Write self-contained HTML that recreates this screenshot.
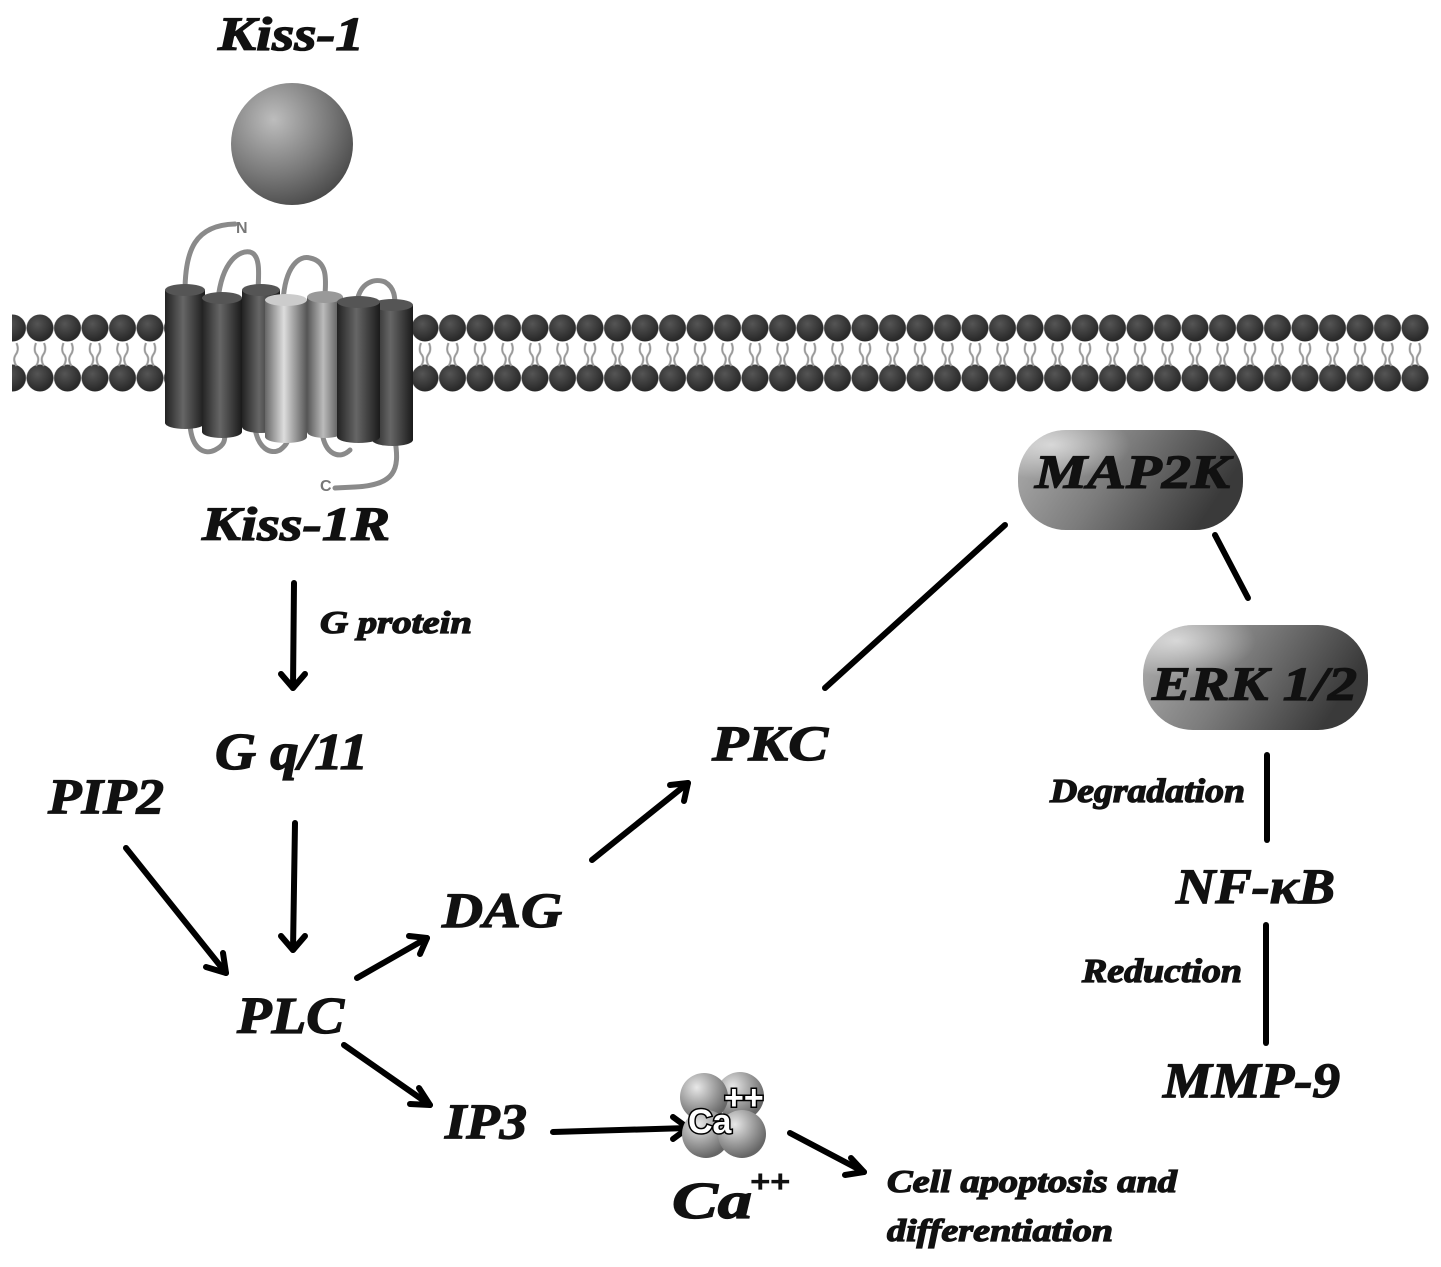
<!DOCTYPE html>
<html><head><meta charset="utf-8"><style>
html,body{margin:0;padding:0;background:#fff}
svg{display:block}
text{font-family:"Liberation Serif",serif;font-weight:bold;font-style:italic;fill:#111;stroke:#111;stroke-width:1.3}
</style></head><body>
<svg width="1441" height="1267" viewBox="0 0 1441 1267" xmlns="http://www.w3.org/2000/svg">
<defs>
<radialGradient id="sph" cx="0.35" cy="0.3" r="0.75">
<stop offset="0" stop-color="#bdbdbd"/><stop offset="0.6" stop-color="#7a7a7a"/><stop offset="1" stop-color="#4a4a4a"/></radialGradient>
<radialGradient id="ca" cx="0.35" cy="0.3" r="0.7">
<stop offset="0" stop-color="#e8e8e8"/><stop offset="0.6" stop-color="#999"/><stop offset="1" stop-color="#666"/></radialGradient>
<radialGradient id="ball" cx="0.4" cy="0.35" r="0.6">
<stop offset="0" stop-color="#555"/><stop offset="1" stop-color="#2a2a2a"/></radialGradient>
<linearGradient id="cd" x1="0" x2="1"><stop offset="0" stop-color="#222"/><stop offset="0.45" stop-color="#666"/><stop offset="1" stop-color="#1a1a1a"/></linearGradient>
<linearGradient id="cl" x1="0" x2="1"><stop offset="0" stop-color="#666"/><stop offset="0.45" stop-color="#ddd"/><stop offset="1" stop-color="#555"/></linearGradient>
<linearGradient id="cg" x1="0" x2="1"><stop offset="0" stop-color="#555"/><stop offset="0.45" stop-color="#bbb"/><stop offset="1" stop-color="#444"/></linearGradient>
<linearGradient id="pill" x1="0" x2="1" y1="0" y2="0.3"><stop offset="0" stop-color="#b0b0b0"/><stop offset="0.5" stop-color="#7c7c7c"/><stop offset="1" stop-color="#3a3a3a"/></linearGradient>
<radialGradient id="hl" cx="0.15" cy="0.15" r="0.35"><stop offset="0" stop-color="#fff" stop-opacity="0.6"/><stop offset="1" stop-color="#fff" stop-opacity="0"/></radialGradient>
<pattern id="lip" patternUnits="userSpaceOnUse" x="-1.25" y="300" width="27.5" height="110">
<circle cx="13.75" cy="28" r="13.5" fill="url(#ball)"/>
<circle cx="13.75" cy="78" r="13.5" fill="url(#ball)"/>
<path d="M9.75 43 q-3 8 1 12 q3 5 -1 11 M17.75 43 q3 7 -1 12 q-3 5 1 11" stroke="#999" stroke-width="2" fill="none"/>
</pattern>
</defs>

<!-- membrane -->
<rect x="12" y="300" width="1417" height="110" fill="url(#lip)"/>

<!-- Kiss-1 -->
<text x="218" y="50" font-size="48" textLength="146" lengthAdjust="spacingAndGlyphs">Kiss-1</text>
<circle cx="292" cy="144" r="61" fill="url(#sph)"/>

<!-- receptor loops -->
<g fill="none" stroke="#8a8a8a" stroke-width="5" stroke-linecap="round">
<path d="M185 292 C185 250,195 225,235 224"/>
<path d="M218 300 C222 260,240 250,250 252 C262 255,258 280,258 292"/>
<path d="M283 302 C285 265,300 255,310 258 C330 262,325 285,325 297"/>
<path d="M357 302 C360 282,375 278,385 282 C395 288,395 298,395 306"/>
<path d="M190 425 C192 450,205 455,215 450 C225 445,225 440,225 432"/>
<path d="M255 428 C258 448,270 455,280 450 C288 444,288 440,288 436"/>
<path d="M322 432 C325 455,340 460,350 450"/>
<path d="M395 440 C400 470,395 485,355 487 L335 488"/>
</g>
<text x="236" y="233" font-size="16" style="fill:#777;stroke:none;font-style:normal;font-family:'Liberation Sans',sans-serif">N</text>
<text x="320" y="491" font-size="16" style="fill:#777;stroke:none;font-style:normal;font-family:'Liberation Sans',sans-serif">C</text>

<!-- cylinders -->
<path d="M165 290 L165 423 A20 6 0 0 0 205 423 L205 290 Z" fill="url(#cd)"/><ellipse cx="185" cy="290" rx="20" ry="6" fill="#555"/>
<path d="M242 290 L242 427 A19 6 0 0 0 280 427 L280 290 Z" fill="url(#cd)"/><ellipse cx="261" cy="290" rx="19" ry="6" fill="#555"/>
<path d="M202 298 L202 432 A20 6 0 0 0 242 432 L242 298 Z" fill="url(#cd)"/><ellipse cx="222" cy="298" rx="20" ry="6" fill="#555"/>
<path d="M307 297 L307 432 A18 6 0 0 0 343 432 L343 297 Z" fill="url(#cg)"/><ellipse cx="325" cy="297" rx="18" ry="6" fill="#999"/>
<path d="M265 300 L265 437 A21 6 0 0 0 307 437 L307 300 Z" fill="url(#cl)"/><ellipse cx="286" cy="300" rx="21" ry="6" fill="#ccc"/>
<path d="M372 305 L372 440 A20.5 6 0 0 0 413 440 L413 305 Z" fill="url(#cd)"/><ellipse cx="392.5" cy="305" rx="20.5" ry="6" fill="#555"/>
<path d="M337 302 L337 437 A21.5 6 0 0 0 380 437 L380 302 Z" fill="url(#cd)"/><ellipse cx="358.5" cy="302" rx="21.5" ry="6" fill="#555"/>

<text x="202" y="540" font-size="48" textLength="188" lengthAdjust="spacingAndGlyphs">Kiss-1R</text>

<!-- arrows -->
<g stroke="#000" stroke-width="6" fill="none" stroke-linecap="round" stroke-linejoin="round">
<line x1="294" y1="583" x2="293" y2="688"/><polyline points="281,674 293,688 305,674"/>
<line x1="295" y1="823" x2="293" y2="950"/><polyline points="281,936 293,950 305,936"/>
<line x1="126" y1="848" x2="226" y2="973"/><polyline points="206,967 226,973 223,953"/>
<line x1="357" y1="978" x2="427" y2="938"/><polyline points="409,936 427,938 420,954"/>
<line x1="344" y1="1045" x2="430" y2="1105"/><polyline points="419,1088 430,1105 410,1104"/>
<line x1="553" y1="1132" x2="688" y2="1128"/><polyline points="673,1117 688,1128 673,1139"/>
<line x1="592" y1="860" x2="688" y2="783"/><polyline points="670,785 688,783 684,801"/>
<line x1="790" y1="1133" x2="864" y2="1172"/><polyline points="851,1158 864,1172 845,1175"/>
<line x1="825" y1="688" x2="1005" y2="525"/>
<line x1="1215" y1="535" x2="1248" y2="598"/>
<line x1="1267" y1="755" x2="1267" y2="840"/>
<line x1="1266" y1="925" x2="1266" y2="1043"/>
</g>

<text x="320" y="633" font-size="32" textLength="152" lengthAdjust="spacingAndGlyphs">G protein</text>
<text x="215" y="769" font-size="52" textLength="153" lengthAdjust="spacingAndGlyphs">G q/11</text>
<text x="48" y="813" font-size="50" textLength="116" lengthAdjust="spacingAndGlyphs">PIP2</text>
<text x="237" y="1033" font-size="52" textLength="107" lengthAdjust="spacingAndGlyphs">PLC</text>
<text x="442" y="927" font-size="50" textLength="120" lengthAdjust="spacingAndGlyphs">DAG</text>
<text x="445" y="1138" font-size="50" textLength="82" lengthAdjust="spacingAndGlyphs">IP3</text>
<text x="712" y="760" font-size="50" textLength="116" lengthAdjust="spacingAndGlyphs">PKC</text>

<!-- Ca icon -->
<circle cx="740" cy="1096" r="24" fill="url(#ca)"/>
<circle cx="704" cy="1097" r="24" fill="url(#ca)"/>
<circle cx="706" cy="1134" r="24" fill="url(#ca)"/>
<circle cx="742" cy="1134" r="24" fill="url(#ca)"/>
<text x="688" y="1133" font-size="34" style="font-family:'Liberation Sans',sans-serif;font-style:normal;font-weight:bold;fill:#fff;stroke:#000;stroke-width:3;paint-order:stroke">Ca</text>
<text x="724" y="1109" font-size="34" style="font-family:'Liberation Sans',sans-serif;font-style:normal;font-weight:bold;fill:#fff;stroke:#000;stroke-width:3;paint-order:stroke">++</text>
<text x="672" y="1218" font-size="52" textLength="80" lengthAdjust="spacingAndGlyphs">Ca</text>
<text x="750" y="1192" font-size="32" textLength="40" lengthAdjust="spacingAndGlyphs">++</text>

<text x="887" y="1192" font-size="32" textLength="290" lengthAdjust="spacingAndGlyphs">Cell apoptosis and</text>
<text x="887" y="1241" font-size="32" textLength="226" lengthAdjust="spacingAndGlyphs">differentiation</text>

<!-- pills -->
<rect x="1018" y="430" width="225" height="100" rx="48" fill="url(#pill)"/>
<rect x="1018" y="430" width="225" height="100" rx="48" fill="url(#hl)"/>
<text x="1035" y="488" font-size="48" textLength="195" lengthAdjust="spacingAndGlyphs">MAP2K</text>
<rect x="1143" y="625" width="225" height="105" rx="50" fill="url(#pill)"/>
<rect x="1143" y="625" width="225" height="105" rx="50" fill="url(#hl)"/>
<text x="1152" y="700" font-size="48" textLength="205" lengthAdjust="spacingAndGlyphs">ERK 1/2</text>

<text x="1050" y="802" font-size="34" textLength="195" lengthAdjust="spacingAndGlyphs">Degradation</text>
<text x="1176" y="903" font-size="50" textLength="159" lengthAdjust="spacingAndGlyphs">NF-κB</text>
<text x="1082" y="982" font-size="34" textLength="160" lengthAdjust="spacingAndGlyphs">Reduction</text>
<text x="1163" y="1097" font-size="50" textLength="177" lengthAdjust="spacingAndGlyphs">MMP-9</text>
</svg>
</body></html>
